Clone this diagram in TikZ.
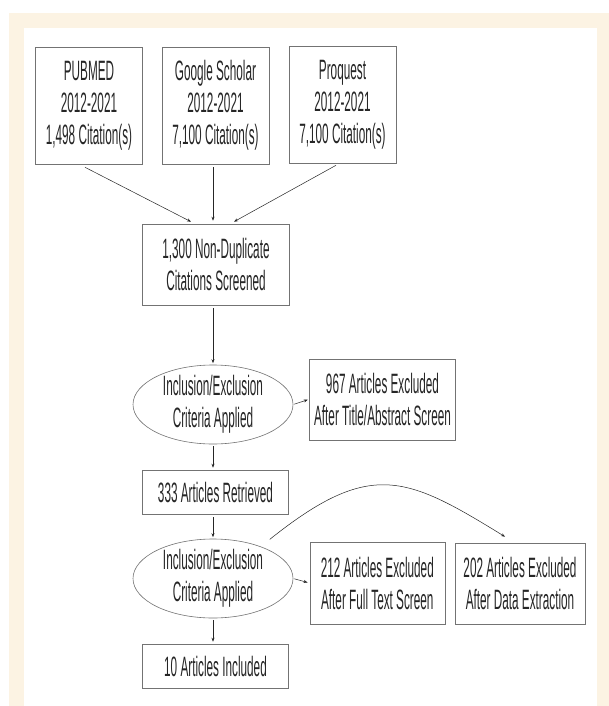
\documentclass[tikz,border=0pt]{standalone}
\usepackage{fontspec}
\setmainfont{Liberation Sans}[FakeStretch=0.42]
\usetikzlibrary{shapes.geometric,arrows.meta}
\definecolor{cream}{HTML}{FCF3E3}

\begin{document}
\begin{tikzpicture}[x=1pt,y=-1pt,
	font=\fontsize{28}{32}\selectfont,
	box/.style={draw=black!55,line width=0.6pt,align=center,inner sep=0pt,text=black!85},
	crit/.style={ellipse,draw=black!55,line width=0.6pt,align=center,inner xsep=0pt,inner ysep=-2pt,
		minimum width=160pt,minimum height=79pt,text=black!85},
	arr/.style={->,>={Stealth[length=4pt,width=3pt]},line width=0.5pt,draw=black!85}]
	\useasboundingbox (0,0) rectangle (609,706);
	\fill[white] (0,0) rectangle (609,706);
	\fill[cream] (9,13) rectangle (609,706);
	\fill[white] (24,28) rectangle (597,706);

	% sources
	\node[box,minimum width=107pt,minimum height=117pt] (pubmed) at (89,105.5) {PUBMED\\2012-2021\\1,498 Citation(s)};
	\node[box,minimum width=107pt,minimum height=117pt] (scholar) at (215.5,105.5) {Google Scholar\\2012-2021\\7,100 Citation(s)};
	\node[box,minimum width=107pt,minimum height=117pt] (proquest) at (342.5,104.5) {Proquest\\2012-2021\\7,100 Citation(s)};

	\node[box,minimum width=147pt,minimum height=81pt] (nondup) at (216,264.5) {1,300 Non-Duplicate\\Citations Screened};

	\node[crit] (crit1) at (213,404.5) {Inclusion/Exclusion\\Criteria Applied};
	\node[box,minimum width=146pt,minimum height=81pt] (excl1) at (382.5,399.3) {967 Articles Excluded\\After Title/Abstract Screen};

	\node[box,minimum width=146pt,minimum height=44pt] (retr) at (215.5,492) {333 Articles Retrieved};

	\node[crit] (crit2) at (213,578.5) {Inclusion/Exclusion\\Criteria Applied};
	\node[box,minimum width=135pt,minimum height=82pt] (excl2) at (377.3,583) {212 Articles Excluded\\After Full Text Screen};
	\node[box,minimum width=130pt,minimum height=81pt] (excl3) at (520,583.5) {202 Articles Excluded\\After Data Extraction};

	\node[box,minimum width=146pt,minimum height=44pt] (incl) at (215.5,666) {10 Articles Included};

	% connectors
	\draw[arr] ([xshift=-4pt,yshift=-3pt]pubmed.south) -- ([xshift=-25pt,yshift=2pt]nondup.north);
	\draw[arr] ([xshift=-2.5pt,yshift=-3pt]scholar.south) -- ([xshift=-3pt,yshift=3pt]nondup.north);
	\draw[arr] ([xshift=-6.5pt,yshift=-2pt]proquest.south) -- ([xshift=18pt,yshift=2pt]nondup.north);

	\draw[arr,shorten <=3pt,shorten >=1.5pt] (crit1.north |- nondup.south) -- (crit1.north);
	\draw[arr,shorten <=1pt,shorten >=1.5pt] (crit1.east) -- (excl1.west);
	\draw[arr,shorten <=2pt,shorten >=2pt] (crit1.south) -- (crit1.south |- retr.north);
	\draw[arr,shorten <=3pt,shorten >=1.5pt] (crit2.north |- retr.south) -- (crit2.north);
	\draw[arr,shorten <=1pt,shorten >=2pt] (crit2.east) -- (excl2.west);
	\draw[arr,shorten <=2pt,shorten >=2pt] (crit2.south) -- (crit2.south |- incl.north);
	\draw[arr] ([yshift=11pt]crit2.north east) .. controls +(100.8,-80.6) and +(-98.7,-60.7) .. ([xshift=-15pt,yshift=6pt]excl3.north);
\end{tikzpicture}
\end{document}
